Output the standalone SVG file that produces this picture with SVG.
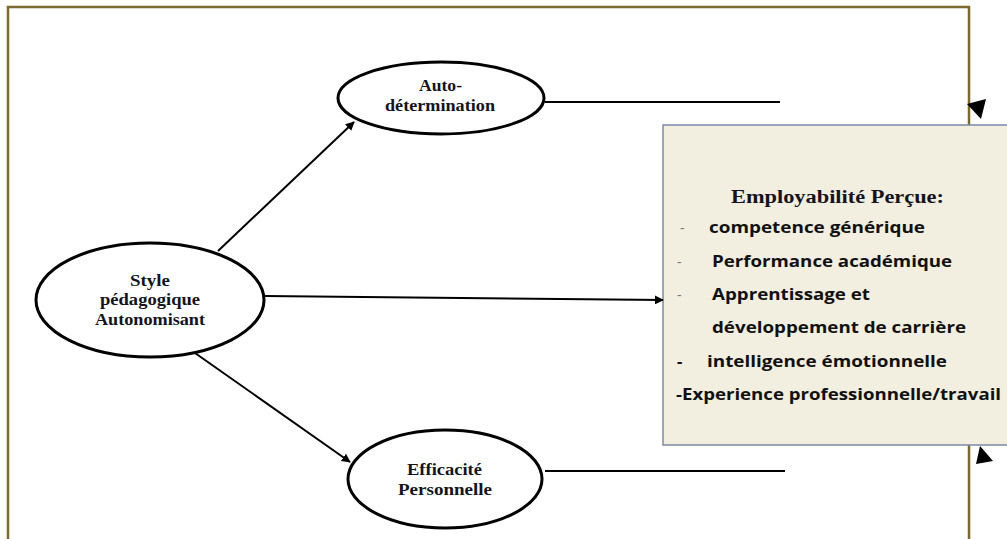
<svg xmlns="http://www.w3.org/2000/svg" width="1007" height="539" viewBox="0 0 1007 539">
<defs>
<style>
.ell{fill:#fff;stroke:#000;stroke-width:3}
.et{font-family:"Liberation Serif","Times New Roman",serif;font-weight:bold;font-size:17.5px;fill:#141420;text-anchor:middle}
.con{stroke:#000;stroke-width:2;fill:none}
.bt{font-family:"Open Sans","Liberation Sans",sans-serif;font-weight:bold;font-size:16.5px;fill:#111}
.dash{font-family:"Open Sans","Liberation Sans",sans-serif;font-size:14px;fill:#777}
.ttl{font-family:"Liberation Serif","Times New Roman",serif;font-weight:bold;font-size:18.5px;fill:#141420}
</style>
<marker id="ah" viewBox="0 0 10 10" refX="9" refY="5" markerWidth="4.5" markerHeight="4.5" orient="auto" markerUnits="strokeWidth">
<path d="M0,0 L10,5 L0,10 z" fill="#000"/>
</marker>
</defs>
<rect width="1007" height="539" fill="#fff"/>
<path d="M8,545 L8,7 L969,7 L969,545" fill="none" stroke="#7b6a2e" stroke-width="2.5"/>

<g id="box">
<rect x="663" y="125" width="360" height="320" fill="#f2eee0" stroke="#7d8aa5" stroke-width="1.5"/>
<text class="ttl" x="731" y="203" textLength="213" lengthAdjust="spacingAndGlyphs">Employabilité Perçue:</text>
<text class="dash" x="680" y="233">-</text>
<text class="bt" x="709" y="233" textLength="216" lengthAdjust="spacingAndGlyphs">competence générique</text>
<text class="dash" x="677" y="267">-</text>
<text class="bt" x="712" y="267" textLength="240" lengthAdjust="spacingAndGlyphs">Performance académique</text>
<text class="dash" x="677" y="300">-</text>
<text class="bt" x="712" y="300" textLength="158" lengthAdjust="spacingAndGlyphs">Apprentissage et</text>
<text class="bt" x="712" y="333" textLength="254" lengthAdjust="spacingAndGlyphs">développement de carrière</text>
<text class="bt" x="677" y="367">-</text>
<text class="bt" x="707" y="367" textLength="240" lengthAdjust="spacingAndGlyphs">intelligence émotionnelle</text>
<text class="bt" x="676" y="400" textLength="325" lengthAdjust="spacingAndGlyphs">-Experience professionnelle/travail</text>
</g>

<g id="connectors">
<line class="con" x1="218" y1="251" x2="354" y2="122" marker-end="url(#ah)"/>
<line class="con" x1="265" y1="296" x2="663" y2="300" marker-end="url(#ah)"/>
<line class="con" x1="195" y1="353" x2="350" y2="462" marker-end="url(#ah)"/>
<line class="con" x1="545" y1="102" x2="780" y2="102" stroke-width="2.5"/>
<line class="con" x1="545" y1="471" x2="785" y2="471" stroke-width="2.5"/>
<polygon points="981,119 967,104 986,99" fill="#000"/>
<polygon points="980,446 976,464 993,461" fill="#000"/>
</g>

<g id="auto-determination">
<ellipse class="ell" cx="441" cy="98" rx="103" ry="36"/>
<text class="et" x="440.5" y="91" textLength="43" lengthAdjust="spacingAndGlyphs">Auto-</text>
<text class="et" x="440" y="111" textLength="110" lengthAdjust="spacingAndGlyphs">détermination</text>
</g>

<g id="style-pedagogique">
<ellipse class="ell" cx="150" cy="300" rx="114" ry="57"/>
<text class="et" x="150" y="286" textLength="40" lengthAdjust="spacingAndGlyphs">Style</text>
<text class="et" x="150" y="305" textLength="100" lengthAdjust="spacingAndGlyphs">pédagogique</text>
<text class="et" x="150" y="325" textLength="110" lengthAdjust="spacingAndGlyphs">Autonomisant</text>
</g>

<g id="efficacite-personnelle">
<ellipse class="ell" cx="445" cy="479" rx="97" ry="49"/>
<text class="et" x="444.5" y="475" textLength="75" lengthAdjust="spacingAndGlyphs">Efficacité</text>
<text class="et" x="445" y="495" textLength="94" lengthAdjust="spacingAndGlyphs">Personnelle</text>
</g>
</svg>
